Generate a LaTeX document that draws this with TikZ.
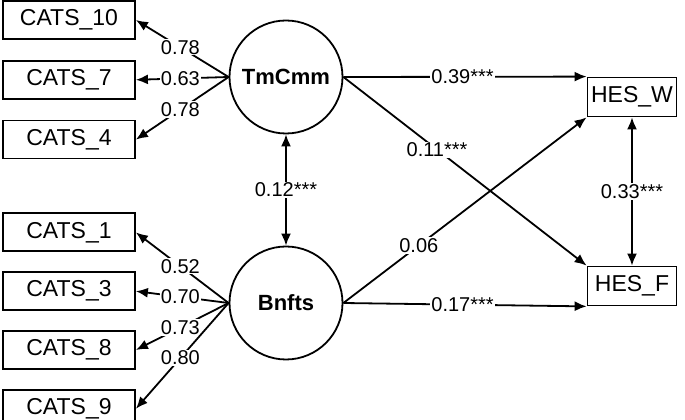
\documentclass[tikz,border=0pt]{standalone}
\usepackage{fontspec}
\setmainfont{Liberation Sans}
\usetikzlibrary{arrows.meta,positioning}

\begin{document}
\begin{tikzpicture}[
  x=1pt,y=1pt,
  node distance=19pt,
  every node/.style={font=\fontsize{23}{26}\selectfont},
  obs/.style={draw,line width=1.8pt,minimum width=132pt,minimum height=38pt,inner sep=0pt},
  lat/.style={draw,circle,line width=1.8pt,minimum size=113pt,inner sep=0pt,font=\fontsize{22}{25}\selectfont\bfseries},
  arr/.style={-{Latex[length=12pt,width=10pt]},line width=1.8pt},
  dbl/.style={{Latex[length=12pt,width=10pt]}-{Latex[length=12pt,width=10pt]},line width=1.8pt},
  est/.style={fill=white,inner sep=1pt,font=\fontsize{20}{23}\selectfont}
]
\useasboundingbox (0,0) rectangle (685,420);
% latent factors
\node[lat] (team) at (286,343) {TmCmm};
\node[lat] (bene) at (286,117) {Bnfts};
% indicators
\node[obs] (c10) at (69,400) {CATS\_10};
\node[obs,below=20pt of c10] (c7) {CATS\_7};
\node[obs,below=20pt of c7] (c4) {CATS\_4};
\node[obs,below=53pt of c4] (c1) {CATS\_1};
\node[obs,below=of c1] (c3) {CATS\_3};
\node[obs,below=of c3] (c8) {CATS\_8};
\node[obs,below=of c8] (c9) {CATS\_9};
% outcomes
\node[obs,minimum width=89pt,minimum height=39pt] (hesw) at (632,323) {HES\_W};
\node[obs,minimum width=89pt,minimum height=39pt] (hesf) at (632,134) {HES\_F};
% loadings
\draw[arr] (team.west) -- node[est,pos=0.52] {0.78} (c10.east);
\draw[arr] (team.west) -- node[est,pos=0.52] {0.63} (c7.east);
\draw[arr] (team.west) -- node[est,pos=0.52] {0.78} (c4.east);
\draw[arr] (bene.west) -- node[est,pos=0.52] {0.52} (c1.east);
\draw[arr] (bene.west) -- node[est,pos=0.52] {0.70} (c3.east);
\draw[arr] (bene.west) -- node[est,pos=0.52] {0.73} (c8.east);
\draw[arr] (bene.west) -- node[est,pos=0.52] {0.80} (c9.east);
% paths
\draw[arr] (team.east) -- node[est,pos=0.49] {0.39***} (hesw.north west);
\draw[arr] (team.east) -- node[est,pos=0.385] {0.11***} (hesf.north west);
\draw[arr] (bene.east) -- node[est,pos=0.31] {0.06} (hesw.south west);
\draw[arr] (bene.east) -- node[est,pos=0.49] {0.17***} (hesf.south west);
% covariances
\draw[dbl] (team.south) -- node[est] {0.12***} (bene.north);
\draw[dbl] (hesw.south) -- node[est] {0.33***} (hesf.north);
\end{tikzpicture}
\end{document}
